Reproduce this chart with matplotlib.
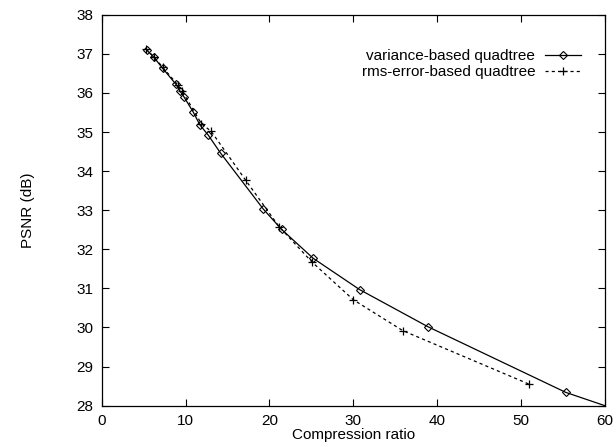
import matplotlib
matplotlib.use("Agg")
import matplotlib.pyplot as plt

plt.rcParams['font.family'] = ['Liberation Sans', 'DejaVu Sans']

# variance-based quadtree
var_x = [5.36, 6.23, 7.27, 8.86, 9.33, 9.81, 10.92, 11.72, 12.71, 14.18, 19.27, 21.45, 25.22, 30.75, 38.9, 55.34, 60.0]
var_y = [37.1, 36.91, 36.63, 36.22, 36.05, 35.9, 35.51, 35.18, 34.92, 34.46, 33.03, 32.51, 31.77, 30.97, 30.02, 28.34, 28.0]

# rms-error-based quadtree
rms_x = [5.3, 6.25, 7.3, 9.1, 9.6, 11.9, 13.05, 17.16, 21.15, 25.05, 30.0, 35.9, 50.97]
rms_y = [37.12, 36.92, 36.65, 36.2, 36.05, 35.21, 35.02, 33.77, 32.58, 31.68, 30.71, 29.92, 28.55]

fig = plt.figure(figsize=(6.16, 4.47), dpi=100)
ax = fig.add_axes([0.165, 0.0924, 0.817, 0.8747])

ax.plot(var_x, var_y, color='black', lw=0.9, marker='D', markersize=3.6,
        markerfacecolor='none', markeredgewidth=0.8, label='variance-based quadtree',
        markevery=list(range(len(var_x) - 1)))
ax.plot(rms_x, rms_y, color='black', lw=0.9, ls=(0, (2.5, 2.5)), marker='+', markersize=6,
        markeredgewidth=0.9, label='rms-error-based quadtree')

ax.set_xlim(0, 60)
ax.set_ylim(28, 38)
ax.set_xticks(range(0, 61, 10))
ax.set_yticks(range(28, 39, 1))
ax.tick_params(direction='in', top=True, right=True, labelsize=11, length=5, width=0.8, pad=6)
for s in ax.spines.values():
    s.set_linewidth(0.9)

ax.set_xlabel('Compression ratio', fontsize=11, labelpad=0)
ax.set_ylabel('PSNR (dB)', fontsize=11, labelpad=30)

leg = ax.legend(loc='upper right', bbox_to_anchor=(0.965, 0.927), frameon=False,
                markerfirst=False, fontsize=11, handlelength=2.4, handletextpad=0.6,
                labelspacing=0.1, borderaxespad=0)

fig.savefig('out.png', dpi=100)
